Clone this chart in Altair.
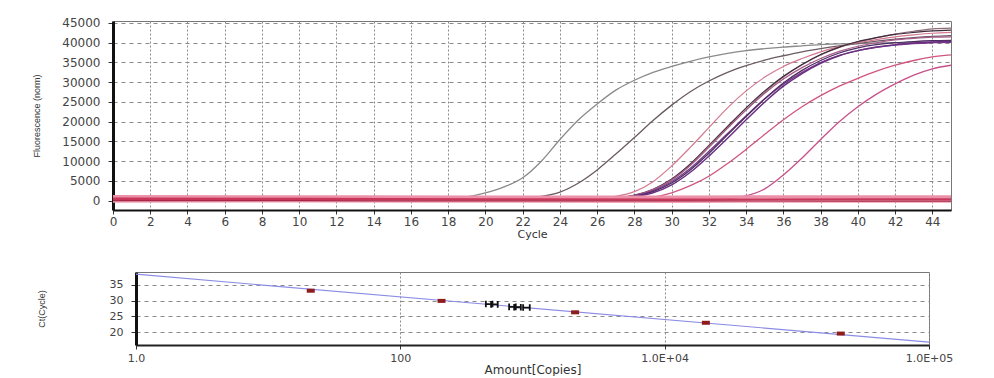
import altair as alt
import pandas as pd

# ---------------- top panel: amplification curves ----------------
cycles = [0, 8, 16, 17, 18, 19, 20, 21, 22, 23, 24, 25, 26, 27, 28, 29, 30,
          31, 32, 33, 34, 35, 36, 37, 38, 39, 40, 41, 42, 43, 44, 45]

curve_A = [300, 300, 300, 350, 550, 1000, 2000, 3500, 5800, 10000, 15500, 20500,
           24500, 28000, 30500, 32500, 34000, 35300, 36400, 37300, 38000, 38500,
           38900, 39200, 39500, 39700, 39800, 39900, 40000, 40000, 40100, 40100]
curve_B = [300, 300, 300, 300, 300, 300, 350, 450, 700, 1100, 2200, 4500,
           7800, 11800, 16000, 20300, 24200, 27600, 30300, 32500, 34200, 35600,
           36700, 37700, 38500, 39200, 39800, 40400, 40900, 41300, 41600, 41800]
curve_C = [300, 300, 300, 300, 300, 300, 300, 300, 300, 300, 300, 400,
           600, 1100, 2300, 4800, 8800, 13500, 18500, 23500, 27800, 31300,
           34000, 36000, 37700, 39000, 40000, 40800, 41500, 42000, 42400, 42600]
curve_K1 = [300, 300, 300, 300, 300, 300, 300, 300, 300, 300, 300, 300,
            350, 600, 1200, 2500, 4800, 8200, 12500, 17000, 21500, 25800,
            29500, 32500, 35000, 36800, 38000, 38800, 39400, 39800, 40000, 40100]
curve_K2 = [300, 300, 300, 300, 300, 300, 300, 300, 300, 300, 300, 300,
            400, 700, 1400, 2900, 5500, 9300, 14000, 18800, 23500, 27800,
            31500, 34500, 37000, 38900, 40300, 41300, 42100, 42600, 43000, 43200]
curve_K3 = [300, 300, 300, 300, 300, 300, 300, 300, 300, 300, 300, 300,
            400, 700, 1300, 2700, 5200, 8900, 13500, 18300, 23000, 27500,
            31300, 34400, 36900, 38800, 40200, 41300, 42200, 42900, 43500, 43700]
curve_K4 = [300, 300, 300, 300, 300, 300, 300, 300, 300, 300, 300, 300,
            300, 500, 1000, 2000, 4000, 7200, 11300, 15800, 20500, 25000,
            29000, 32200, 34800, 36700, 38000, 38900, 39500, 39900, 40200, 40300]
curve_K5 = [300, 300, 300, 300, 300, 300, 300, 300, 300, 300, 300, 300,
            400, 700, 1300, 2800, 5300, 9000, 13800, 18500, 23000, 27200,
            30800, 33700, 36000, 37800, 39100, 40000, 40700, 41100, 41400, 41500]
curve_K6 = [300, 300, 300, 300, 300, 300, 300, 300, 300, 300, 300, 300,
            350, 600, 1100, 2300, 4500, 7800, 12000, 16700, 21300, 25800,
            29800, 33000, 35500, 37400, 38700, 39500, 40000, 40300, 40500, 40600]
curve_D = [300, 300, 300, 300, 300, 300, 300, 300, 300, 300, 300, 300,
           300, 300, 400, 900, 2000, 3800, 6200, 9400, 13000, 16800,
           20500, 23800, 26600, 29000, 31000, 32800, 34300, 35500, 36400, 36900]
curve_E = [300, 300, 300, 300, 300, 300, 300, 300, 300, 300, 300, 300,
           300, 300, 300, 300, 300, 300, 300, 500, 1200, 3000,
           6500, 10800, 15500, 20000, 23800, 27000, 29600, 31800, 33400, 34300]

# negative controls (flat band near zero)
neg_cycles = [0, 10, 20, 30, 40, 45]
neg_1 = [1000, 950, 900, 900, 950, 950]
neg_2 = [500, 450, 300, 250, 300, 300]
neg_3 = [-200, -150, -200, -250, -200, -200]
neg_4 = [0, 0, -50, -50, -100, -100]

x_ticks_top = [0, 2, 4, 6, 8, 10, 12, 14, 16, 18, 20, 22, 24, 26, 28, 30, 32, 34,
               36, 38, 40, 42, 44]
y_ticks_top = [0, 5000, 10000, 15000, 20000, 25000, 30000, 35000, 40000, 45000]

# ---------------- bottom panel: standard curve ----------------
std_amount = [21, 205, 2100, 20500, 215000]
std_ct = [33.1, 29.9, 26.3, 23.0, 19.6]
unk_amount = [470, 515, 705, 770, 900]
unk_ct = [28.9, 28.8, 28.0, 27.9, 27.8]
fit_amount = [1, 1000000]
fit_ct = [38.3, 16.9]
x_ticks_bot = [1, 100, 10000, 1000000]
x_tick_labels_bot = ['1.0', '100', '1.0E+04', '1.0E+05']
y_ticks_bot = [20, 25, 30, 35]

# ---------------- styles ----------------
amp_series = [
    (curve_A, '#8a8a8a', 1.3),
    (curve_B, '#6a5a62', 1.3),
    (curve_C, '#d47890', 1.2),
    (curve_K3, '#8c6c72', 1.2),
    (curve_K2, '#3e2a3c', 1.2),
    (curve_K5, '#a85a8a', 1.2),
    (curve_K1, '#7a3a8c', 1.3),
    (curve_K6, '#4e2d62', 1.3),
    (curve_K4, '#6a2f82', 1.5),
    (curve_D, '#d05580', 1.3),
    (curve_E, '#c9508a', 1.3),
]
neg_series = [
    (neg_1, '#eb90a8', 3.5),
    (neg_2, '#c8365a', 2.5),
    (neg_3, '#f0a0b4', 2.5),
    (neg_4, '#a82848', 1.2),
]

LABEL_FONT = 'DejaVu Sans'

X_TOP = alt.X('cycle:Q', scale=alt.Scale(domain=[0, 45], nice=False, zero=False),
              axis=alt.Axis(values=x_ticks_top, title='Cycle', grid=True,
                            gridColor='#8a8a8a', gridDash=[2, 2], gridWidth=1,
                            domainColor='#111111', domainWidth=2, tickColor='#333333',
                            tickSize=4, labelPadding=2, titlePadding=1,
                            labelFlush=False, labelOverlap=False,
                            labelFontSize=12, titleFontSize=11))
Y_TOP = alt.Y('value:Q', scale=alt.Scale(domain=[-2350, 45500], nice=False, zero=False),
              axis=alt.Axis(values=y_ticks_top, format='d', title='Fluorescence (norm)',
                            grid=True, gridColor='#8a8a8a', gridDash=[4, 4], gridWidth=1,
                            domainColor='#111111', domainWidth=3, tickColor='#333333',
                            tickSize=5, labelPadding=8, titlePadding=20,
                            labelFontSize=12, titleFont='Liberation Sans',
                            titleFontSize=9))

layers = []
for vals, color, w in amp_series:
    df = pd.DataFrame({'cycle': cycles, 'value': vals})
    layers.append(alt.Chart(df).mark_line(color=color, strokeWidth=w,
                                          interpolate='monotone').encode(x=X_TOP, y=Y_TOP))
for vals, color, w in neg_series:
    df = pd.DataFrame({'cycle': neg_cycles, 'value': vals})
    layers.append(alt.Chart(df).mark_line(color=color, strokeWidth=w,
                                          interpolate='monotone').encode(x=X_TOP, y=Y_TOP))

top = alt.layer(*layers).properties(
    width=838, height=189,
    view=alt.ViewBackground(stroke='#777777', strokeWidth=1))

# bottom chart
label_expr = ' : '.join(
    [f"datum.value == {v} ? '{t}'" for v, t in zip(x_ticks_bot[:-1], x_tick_labels_bot[:-1])]
) + f" : '{x_tick_labels_bot[-1]}'"

X_BOT = alt.X('amount:Q', scale=alt.Scale(type='log', domain=[1, 1000000], nice=False),
              axis=alt.Axis(values=x_ticks_bot, labelExpr=label_expr, title='Amount[Copies]',
                            grid=True, gridColor='#8a8a8a', gridDash=[2, 2],
                            domainColor='#222222', domainWidth=2, tickColor='#333333',
                            tickSize=4, labelPadding=3, titlePadding=1,
                            labelFlush=False, labelOverlap=False,
                            labelFontSize=11, titleFontSize=12))
Y_BOT = alt.Y('ct:Q', scale=alt.Scale(domain=[16, 39], nice=False, zero=False),
              axis=alt.Axis(values=y_ticks_bot, title='Ct(Cycle)', grid=True,
                            gridColor='#8a8a8a', gridDash=[4, 4],
                            domainColor='#111111', domainWidth=3, tickColor='#333333',
                            tickSize=5, labelPadding=8, titlePadding=63,
                            labelFontSize=11, titleFont='Liberation Sans',
                            titleFontSize=9))

fit_df = pd.DataFrame({'amount': fit_amount, 'ct': fit_ct})
std_df = pd.DataFrame({'amount': std_amount, 'ct': std_ct})
unk_df = pd.DataFrame({'amount': unk_amount, 'ct': unk_ct})

fit_line = alt.Chart(fit_df).mark_line(color='#8c8ce6', strokeWidth=1.2).encode(x=X_BOT, y=Y_BOT)
std_pts = alt.Chart(std_df).mark_point(
    shape='M-1,-0.5H1V0.5H-1Z', filled=True, color='#8e1c1c', size=64, opacity=1
).encode(x=X_BOT, y=Y_BOT)
unk_pts = alt.Chart(unk_df).mark_point(
    shape='M-1,-1V1M1,-1V1M-1,0H1', filled=False, color='#111111', size=44,
    strokeWidth=1.8, opacity=1
).encode(x=X_BOT, y=Y_BOT)

bottom = alt.layer(fit_line, std_pts, unk_pts).properties(
    width=793, height=73,
    view=alt.ViewBackground(stroke='#777777', strokeWidth=1))


def spacer(w):
    return alt.Chart(pd.DataFrame({'s': [0]})).mark_point(opacity=0).encode(
        x=alt.value(0), y=alt.value(0)
    ).properties(width=w, height=5, view=alt.ViewBackground(strokeOpacity=0))


row1 = alt.hconcat(spacer(21), top, spacing=0)
row2 = alt.hconcat(spacer(25), bottom, spacing=0)

chart = alt.vconcat(row1, row2, spacing=29).properties(
    padding={'left': 0, 'top': 8, 'right': 0, 'bottom': 0},
    background='white'
).configure_axis(
    labelFont=LABEL_FONT, labelColor='#444444', titleColor='#333333',
    titleFont=LABEL_FONT, titleFontWeight='normal'
)

chart.save('out.html', embed_options={'renderer': 'svg', 'actions': False})
